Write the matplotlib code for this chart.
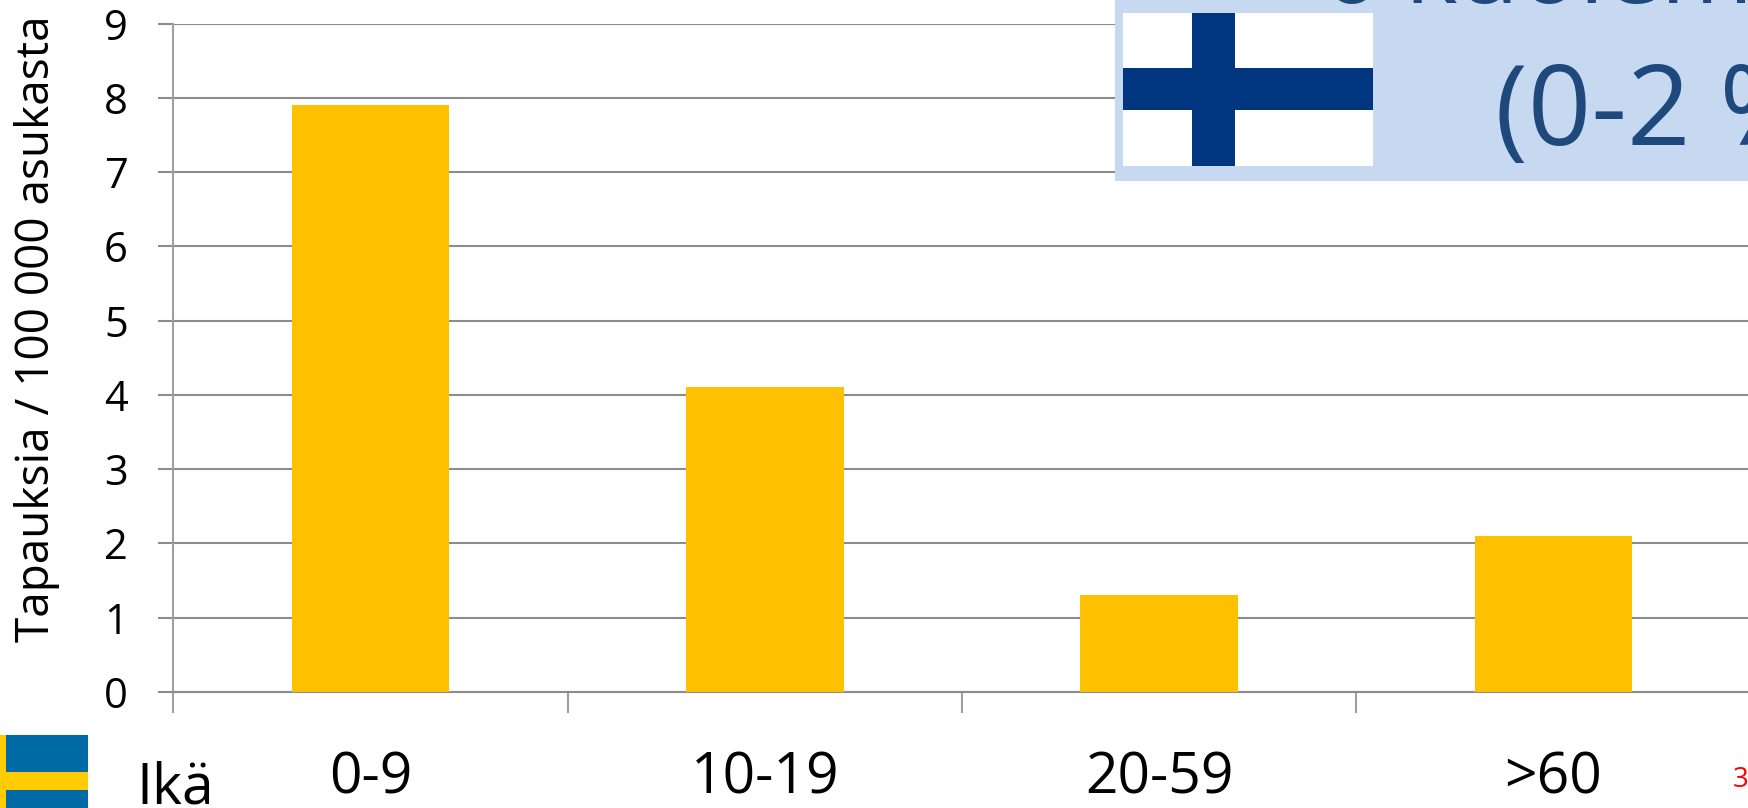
import matplotlib
matplotlib.use('Agg')
import matplotlib.pyplot as plt
from matplotlib.patches import Rectangle

W, H = 1749, 808

age_groups = ['0-9', '10-19', '20-59', '>60']
cases = [7.9, 4.1, 1.3, 2.1]
y_ticks = [0, 1, 2, 3, 4, 5, 6, 7, 8, 9]
y_label = 'Tapauksia / 100 000 asukasta'
x_title = 'Ikä'

COLORS = {
    'bar': '#FFC000',
    'grid': '#8C8C8C',
    'spine': '#A0A0A0',
    'box': '#C6D9F1',
    'box_text': '#1F497D',
    'fi_blue': '#003580',
    'se_blue': '#006AA7',
    'se_yellow': '#FECC00',
}

plt.rcParams['font.family'] = ['Open Sans', 'DejaVu Sans']


def add_rect(fig, x0, y0, x1, y1, color, zorder=5):
    """Rectangle in reference pixels, y measured from the top"""
    fig.add_artist(Rectangle((x0 / W, 1 - y1 / H), (x1 - x0) / W, (y1 - y0) / H,
                             transform=fig.transFigure, facecolor=color,
                             edgecolor='none', zorder=zorder))


fig = plt.figure(figsize=(W / 100, H / 100), dpi=100, facecolor='white')
ax = fig.add_axes([173.5 / W, 1 - 692 / H, 1577 / W, (692 - 23.5) / H])

ax.bar(range(len(cases)), cases, width=0.4, color=COLORS['bar'], zorder=3)
ax.set_xlim(-0.5, 3.5)
ax.set_ylim(0, 9)
ax.set_yticks(y_ticks)
ax.yaxis.grid(True, color=COLORS['grid'], linewidth=1.5, zorder=1)
ax.set_axisbelow(True)
for side in ('top', 'right'):
    ax.spines[side].set_visible(False)
ax.spines['left'].set_color(COLORS['spine'])
ax.spines['left'].set_linewidth(1.5)
ax.spines['bottom'].set_color(COLORS['grid'])
ax.spines['bottom'].set_linewidth(1.5)

ax.set_xticks([-0.5, 0.5, 1.5, 2.5, 3.5])
ax.set_xticklabels([])
ax.tick_params(axis='x', length=15, width=1.5, color=COLORS['spine'])
ax.tick_params(axis='y', length=11, width=1.5, color=COLORS['grid'], labelsize=30, pad=22)
ax.set_ylabel(y_label, fontsize=33)
ax.yaxis.set_label_coords(60 / W, 1 - 329 / H, transform=fig.transFigure)

for i, label in enumerate(age_groups):
    ax.annotate(label, (i, 0), xycoords=('data', 'axes fraction'), xytext=(0, -73),
                textcoords='offset points', ha='center', va='baseline', fontsize=41)

fig.text(136 / W, 1 - 803 / H, x_title, fontsize=41, ha='left', va='baseline')
fig.text(1733 / W, 1 - 787 / H, '3', fontsize=20, color='red', ha='left', va='baseline')

# Finnish flag on the title box, its text runs past the slide edges
add_rect(fig, 1115, 0, W, 181, COLORS['box'])
add_rect(fig, 1123, 13, 1373, 166, 'white', 6)
add_rect(fig, 1192, 13, 1235, 166, COLORS['fi_blue'], 7)
add_rect(fig, 1123, 68, 1373, 110, COLORS['fi_blue'], 7)
fig.text(1322 / W, 1 - 3 / H, '6 kuolemaa', fontsize=72, color=COLORS['box_text'],
         ha='left', va='baseline', zorder=8)
fig.text(1495 / W, 1 - 145 / H, '(0-2 %)', fontsize=80, color=COLORS['box_text'],
         ha='left', va='baseline', zorder=8)

# Swedish flag, cropped by the lower edge
add_rect(fig, 0, 735, 88, H, COLORS['se_blue'])
add_rect(fig, 0, 735, 6, H, COLORS['se_yellow'], 6)
add_rect(fig, 0, 772, 88, 790, COLORS['se_yellow'], 6)

fig.savefig('out.png', dpi=100)
